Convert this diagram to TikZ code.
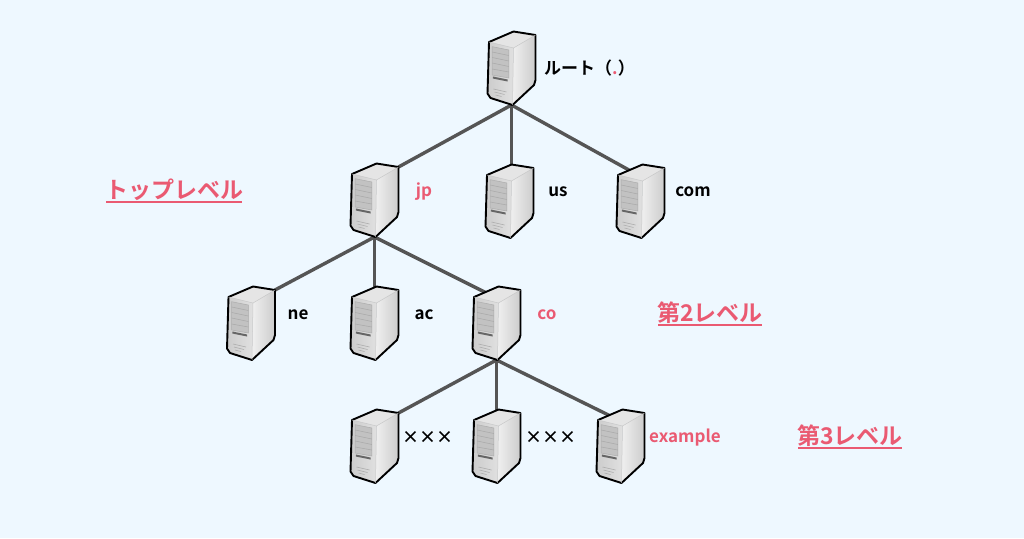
\documentclass[tikz,border=0pt]{standalone}
\usepackage{fontspec}
\setmainfont{Noto Sans CJK JP Bold}
\usetikzlibrary{backgrounds}
\definecolor{bgblue}{HTML}{EEF8FF}
\definecolor{pinktext}{HTML}{EA5A72}
\definecolor{wiregray}{HTML}{555555}
\tikzset{
    wire/.style={draw=wiregray, line width=3.4pt},
    label/.style={font=\fontsize{17}{17}\selectfont, text=black, inner sep=0pt},
    redlabel/.style={label, text=pinktext},
    level/.style={font=\fontsize{23}{23}\selectfont, text=pinktext, inner sep=0pt},
    levelline/.style={draw=pinktext, line width=2pt},
    server/.pic={
        \coordinate (-bottom) at (23, 74);
        \coordinate (-left) at (47, 4);
        \coordinate (-middle) at (24, 6);
        \coordinate (-right) at (15, 8);
        % faces
        \fill[black!10] (0.5, 11) -- (25, 0.5) -- (47, 4) -- (25, 17) -- cycle;
        \shade[left color=black!20, right color=black!12] (0.5, 11) -- (25, 17) -- (24, 74) -- (2, 67) -- (-1, 62.5) -- cycle;
        \shade[left color=black!6, right color=black!20] (25, 17) -- (47, 4) -- (47, 49) -- (45.5, 54) -- (24, 74) -- cycle;
        % panel
        \filldraw[fill=black!24, draw=black!32, line width=0.5pt] (3.7, 15.7) -- (20.3, 19) -- (20.3, 47) -- (3.7, 44) -- cycle;
        \draw[black!34, line width=0.5pt] (3.7, 21) -- (20.3, 24.5) (3.7, 26.5) -- (20.3, 30) (3.7, 32) -- (20.3, 35.5) (3.7, 38) -- (20.3, 41);
        \fill[black!60] (4.3, 45.5) -- (19, 48.5) -- (19, 50.5) -- (4.3, 47.5) -- cycle;
        \draw[black!32, line width=0.6pt] (5, 58) -- (18, 61) (6, 61) -- (16, 63.5) (7, 64) -- (13, 65.5);
        % outline
        \draw[black, line width=1.9pt, line join=round] (0.5, 11) -- (25, 0.5) -- (47, 4) -- (47, 49) -- (45.5, 54) -- (24, 74) -- (2, 67) -- (-1, 62.5) -- cycle;
        \draw[black!22, line width=0.5pt] (0.5, 11) -- (25, 17) -- (47, 4) (25, 17) -- (24, 74);
    }
}
\begin{document}
\begin{tikzpicture}[x=1pt, y=-1pt]
    \useasboundingbox (0, 0) rectangle (1024, 538);

    % servers
    \pic (root) at (488.5, 31) {server};
    \pic (jp) at (351.5, 163) {server};
    \pic (us) at (486.5, 164) {server};
    \pic (com) at (617.5, 164) {server};
    \pic (ne) at (228, 286) {server};
    \pic (ac) at (351.5, 286) {server};
    \pic (co) at (473.5, 286) {server};
    \pic (xa) at (351.5, 409) {server};
    \pic (xb) at (473.5, 409) {server};
    \pic (example) at (597.5, 409) {server};

    % wires
    \begin{scope}[on background layer]
        \fill[bgblue] (0, 0) rectangle (1024, 538);
        \draw[wire] (root-bottom) -- (jp-left);
        \draw[wire] (root-bottom) -- (root-bottom |- us-middle);
        \draw[wire] (root-bottom) -- (com-right);
        \draw[wire] (jp-bottom) -- (ne-left);
        \draw[wire] (jp-bottom) -- (jp-bottom |- ac-middle);
        \draw[wire] (jp-bottom) -- (co-right);
        \draw[wire] (co-bottom) -- (xa-left);
        \draw[wire] (co-bottom) -- (co-bottom |- xb-middle);
        \draw[wire] (co-bottom) -- (example-right);
    \end{scope}

    % labels
    \node[label] (rootlabel) at (589.5, 68) {ルート（{\color{pinktext}.}）};
    \node[redlabel] (jplabel) at (424, 191.5) {jp};
    \node[label] (uslabel) at (558, 191.5) {us};
    \node[label] (comlabel) at (693, 191.5) {com};
    \node[label] (nelabel) at (298, 314.5) {ne};
    \node[label] (aclabel) at (424, 314.5) {ac};
    \node[redlabel] (colabel) at (547, 314.5) {co};
    \node[label] (xalabel) at (427.5, 437) {×××};
    \node[label] (xblabel) at (550.5, 437) {×××};
    \node[redlabel] (examplelabel) at (685, 437.5) {example};

    % levels
    \node[level] (top) at (174, 190) {トップレベル};
    \node[level] (second) at (710, 313) {第2レベル};
    \node[level] (third) at (850, 436) {第3レベル};
    \draw[levelline] (106, 202) -- (242, 202);
    \draw[levelline] (658, 325) -- (762, 325);
    \draw[levelline] (798, 448) -- (902, 448);
\end{tikzpicture}
\end{document}
